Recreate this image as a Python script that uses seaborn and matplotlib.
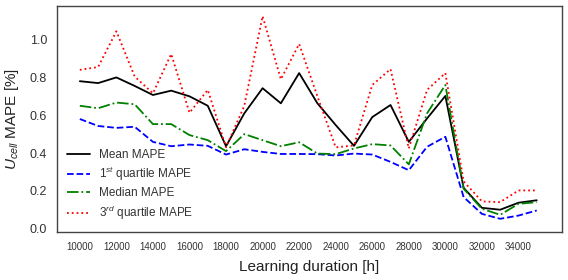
import numpy as np
import pandas as pd
import matplotlib
matplotlib.use('Agg')
import matplotlib.pyplot as plt
import seaborn as sns

sns.set_style('white')
plt.rcParams['font.family'] = ['Liberation Sans', 'DejaVu Sans']
plt.rcParams['mathtext.fontset'] = 'custom'
plt.rcParams['mathtext.rm'] = 'Liberation Sans'
plt.rcParams['mathtext.it'] = 'Liberation Sans:italic'

# learning duration in hours
hours = list(range(10000, 36000, 1000))

mean_mape = [0.78, 0.77, 0.80, 0.755, 0.707, 0.73, 0.70, 0.65, 0.436, 0.61,
             0.743, 0.663, 0.823, 0.663, 0.548, 0.438, 0.59, 0.654, 0.459, 0.583,
             0.702, 0.216, 0.11, 0.10, 0.137, 0.15]
q1_mape = [0.58, 0.543, 0.533, 0.539, 0.459, 0.436, 0.445, 0.438, 0.392, 0.42,
           0.406, 0.395, 0.395, 0.394, 0.387, 0.397, 0.392, 0.353, 0.309, 0.433,
           0.486, 0.167, 0.078, 0.052, 0.069, 0.096]
median_mape = [0.65, 0.637, 0.667, 0.658, 0.553, 0.553, 0.495, 0.468, 0.41, 0.50,
               0.468, 0.436, 0.457, 0.397, 0.394, 0.424, 0.447, 0.44, 0.34, 0.61,
               0.76, 0.211, 0.105, 0.073, 0.131, 0.14]
q3_mape = [0.84, 0.855, 1.044, 0.805, 0.716, 0.924, 0.613, 0.734, 0.43, 0.65,
           1.124, 0.79, 0.977, 0.70, 0.43, 0.44, 0.76, 0.844, 0.424, 0.734,
           0.823, 0.25, 0.144, 0.14, 0.202, 0.202]

df = pd.DataFrame({'hours': hours, 'mean': mean_mape, 'q1': q1_mape,
                   'median': median_mape, 'q3': q3_mape})

fig, ax = plt.subplots(figsize=(5.68, 2.8), dpi=100)

sns.lineplot(data=df, x='hours', y='mean', ax=ax, color='black', lw=1.3,
             label='Mean MAPE')
sns.lineplot(data=df, x='hours', y='q1', ax=ax, color='blue', lw=1.3,
             linestyle='--', label='1$^{st}$ quartile MAPE')
sns.lineplot(data=df, x='hours', y='median', ax=ax, color='green', lw=1.3,
             linestyle='-.', label='Median MAPE')
sns.lineplot(data=df, x='hours', y='q3', ax=ax, color='red', lw=1.3,
             linestyle=':', label='3$^{rd}$ quartile MAPE')

ax.set_xlim(8740, 36400)
ax.set_ylim(-0.02, 1.18)
ax.set_xticks(range(10000, 36000, 2000))
ax.set_yticks(np.arange(0, 1.01, 0.2))
ax.tick_params(axis='x', labelsize=7, colors='#333333')
ax.tick_params(axis='y', labelsize=9, colors='#333333')
ax.set_xlabel('Learning duration [h]', fontsize=11, labelpad=6, color='#222222')
ax.set_ylabel('$U_{cell}$ MAPE [%]', fontsize=11, color='#222222', labelpad=6)

for s in ax.spines.values():
    s.set_color('#444444')
    s.set_linewidth(1.0)

leg = ax.legend(loc='lower left', frameon=False, fontsize=8.5, handlelength=1.9,
                handletextpad=0.8, labelspacing=0.35, bbox_to_anchor=(0.0, 0.0))
for t in leg.get_texts():
    t.set_color('#333333')

fig.subplots_adjust(left=0.1, right=0.99, top=0.98, bottom=0.17)
fig.savefig('out.png', dpi=100)
